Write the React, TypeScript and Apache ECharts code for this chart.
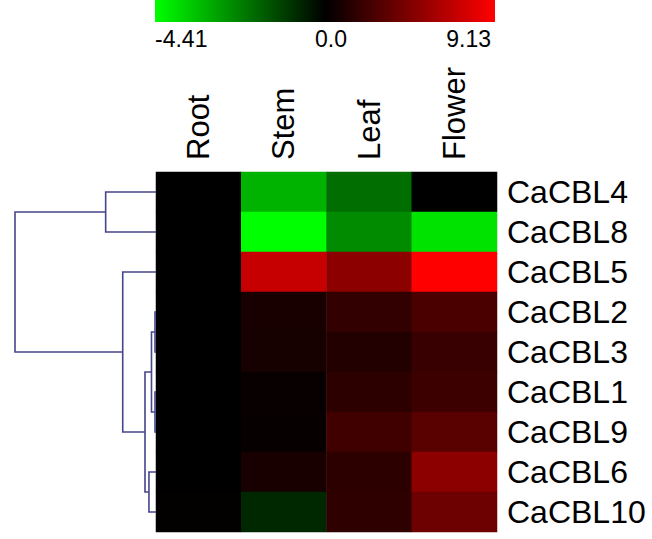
import React, { useEffect, useRef } from "react";
import * as echarts from "echarts";

const genes = ["CaCBL4", "CaCBL8", "CaCBL5", "CaCBL2", "CaCBL3", "CaCBL1", "CaCBL9", "CaCBL6", "CaCBL10"];
const tissues = ["Root", "Stem", "Leaf", "Flower"];
const rootVals = [0, 0, 0, 0, 0, 0, 0, 0, 0.1];
const stemVals = [-3.1, -4.41, 7.1, 0.9, 0.8, 0.3, 0.2, 0.9, -0.7];
const leafVals = [-1.9, -2.4, 5.0, 1.8, 1.25, 1.6, 2.3, 1.6, 1.7];
const flowerVals = [0, -3.9, 9.13, 2.7, 2.0, 2.15, 3.2, 5.0, 3.9];
const minVal = -4.41;
const maxVal = 9.13;
const scaleLabels = ["-4.41", "0.0", "9.13"];
// dendrogram merges: [childA, childB, height]; leaves are 0..8 in display order
const merges: [number, number, number][] = [
  [3, 4, 0.007],
  [5, 6, 0.007],
  [9, 10, 0.032],
  [7, 8, 0.05],
  [11, 12, 0.078],
  [2, 13, 0.236],
  [0, 1, 0.357],
  [15, 14, 1.0],
];

const FONT = "'Liberation Sans', Arial, sans-serif";

export default function App() {
  const ref = useRef<HTMLDivElement>(null);
  useEffect(() => {
    if (!ref.current) return;
    const chart = echarts.init(ref.current, null, { renderer: "svg" });
    const cols = [rootVals, stemVals, leafVals, flowerVals];
    const heatData: number[][] = [];
    cols.forEach((arr, ci) => {
      arr.forEach((v, ri) => {
        const n = v < 0 ? v / -minVal : v / maxVal;
        heatData.push([ci, ri, v, n]);
      });
    });
    // dendrogram
    const nodeY: number[] = genes.map((_, i) => i);
    const nodeH: number[] = genes.map(() => 0);
    const segs: { coords: number[][] }[] = [];
    merges.forEach(([a, b, h]) => {
      segs.push({
        coords: [
          [nodeH[a], nodeY[a]],
          [h, nodeY[a]],
          [h, nodeY[b]],
          [nodeH[b], nodeY[b]],
        ],
      });
      nodeY.push((nodeY[a] + nodeY[b]) / 2);
      nodeH.push(h);
    });

    chart.setOption({
      animation: false,
      grid: [
        { left: 156, top: 172, width: 341, height: 360 },
        { left: 15, top: 172, width: 141, height: 360 },
      ],
      xAxis: [
        {
          type: "category",
          data: tissues,
          position: "top",
          gridIndex: 0,
          axisLine: { show: false },
          axisTick: { show: false },
          axisLabel: { rotate: -90, interval: 0, fontSize: 31, color: "#000", fontFamily: FONT, margin: 12 },
        },
        {
          type: "value",
          gridIndex: 1,
          min: 0,
          max: 1,
          inverse: true,
          show: false,
        },
      ],
      yAxis: [
        {
          type: "category",
          data: genes,
          inverse: true,
          position: "right",
          gridIndex: 0,
          axisLine: { show: false },
          axisTick: { show: false },
          axisLabel: { interval: 0, fontSize: 32, color: "#000", fontFamily: FONT, margin: 10 },
        },
        {
          type: "value",
          gridIndex: 1,
          min: -0.5,
          max: 8.5,
          inverse: true,
          show: false,
        },
      ],
      visualMap: {
        show: false,
        type: "continuous",
        dimension: 3,
        seriesIndex: 0,
        min: -1,
        max: 1,
        inRange: { color: ["#00ff00", "#000000", "#ff0000"] },
      },
      series: [
        {
          type: "heatmap",
          xAxisIndex: 0,
          yAxisIndex: 0,
          data: heatData,
          itemStyle: { borderWidth: 0 },
        },
        {
          type: "lines",
          coordinateSystem: "cartesian2d",
          xAxisIndex: 1,
          yAxisIndex: 1,
          polyline: true,
          lineStyle: { color: "#45458a", width: 1.6, opacity: 1 },
          data: segs,
        },
      ],
      graphic: [
        {
          type: "rect",
          shape: { x: 155, y: 0, width: 340, height: 22 },
          style: {
            fill: new echarts.graphic.LinearGradient(0, 0, 1, 0, [
              { offset: 0, color: "#00ff00" },
              { offset: 0.5, color: "#000000" },
              { offset: 1, color: "#ff0000" },
            ]),
          },
        },
        {
          type: "text",
          x: 155,
          y: 39,
          style: { text: scaleLabels[0], fontSize: 23, fill: "#000", font: `23px ${FONT}`, textAlign: "left", textVerticalAlign: "middle" },
        },
        {
          type: "text",
          x: 331,
          y: 39,
          style: { text: scaleLabels[1], fontSize: 23, fill: "#000", font: `23px ${FONT}`, textAlign: "center", textVerticalAlign: "middle" },
        },
        {
          type: "text",
          x: 491,
          y: 39,
          style: { text: scaleLabels[2], fontSize: 23, fill: "#000", font: `23px ${FONT}`, textAlign: "right", textVerticalAlign: "middle" },
        },
      ],
    });
    return () => chart.dispose();
  }, []);
  return (
    <div
      ref={ref}
      style={{ position: "fixed", left: 0, top: 0, width: 652, height: 539, background: "#fff" }}
    />
  );
}
